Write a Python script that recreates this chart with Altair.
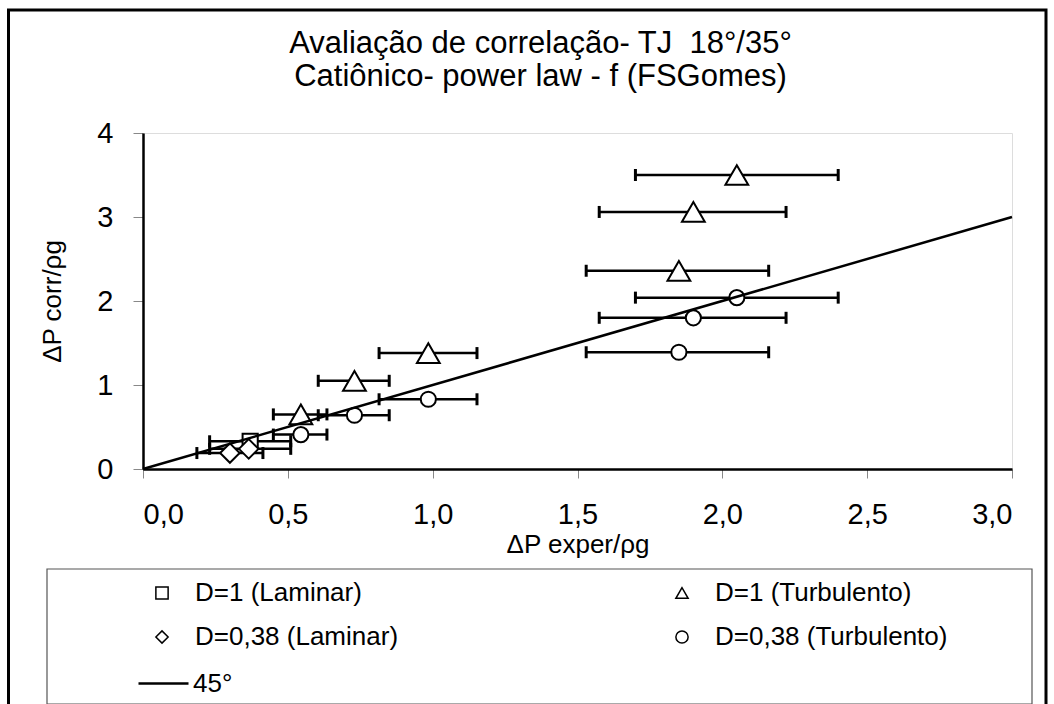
import altair as alt
import pandas as pd

FONT = "Liberation Sans"

# ---- data ----
series_names = ["D=1 (Laminar)", "D=1 (Turbulento)", "D=0,38 (Laminar)", "D=0,38 (Turbulento)"]
series_shapes = ["square", "triangle-up", "diamond", "circle"]
series_sizes = [230, 520, 380, 230]
line_name = "45°"

lam1_x = [0.37]
lam1_y = [0.33]
lam1_lo = [0.23]
lam1_hi = [0.51]

turb1_x = [2.05, 1.90, 1.85, 0.985, 0.73, 0.545]
turb1_y = [3.50, 3.06, 2.36, 1.38, 1.05, 0.65]
turb1_lo = [1.70, 1.575, 1.53, 0.815, 0.605, 0.45]
turb1_hi = [2.40, 2.22, 2.16, 1.153, 0.85, 0.635]

lam038_x = [0.30, 0.365]
lam038_y = [0.19, 0.24]
lam038_lo = [0.186, 0.23]
lam038_hi = [0.414, 0.51]

turb038_x = [2.05, 1.90, 1.85, 0.985, 0.73, 0.545]
turb038_y = [2.04, 1.80, 1.39, 0.83, 0.64, 0.41]
turb038_lo = [1.70, 1.575, 1.53, 0.815, 0.605, 0.45]
turb038_hi = [2.40, 2.22, 2.16, 1.153, 0.85, 0.635]

line_x = [0.0, 3.0]
line_y = [0.0, 3.0]

x_ticks = [0, 0.5, 1.0, 1.5, 2.0, 2.5, 3.0]
y_ticks = [0, 1, 2, 3, 4]

rows = []
for name, sz, xs, ys, los, his in [
    (series_names[0], series_sizes[0], lam1_x, lam1_y, lam1_lo, lam1_hi),
    (series_names[1], series_sizes[1], turb1_x, turb1_y, turb1_lo, turb1_hi),
    (series_names[2], series_sizes[2], lam038_x, lam038_y, lam038_lo, lam038_hi),
    (series_names[3], series_sizes[3], turb038_x, turb038_y, turb038_lo, turb038_hi),
]:
    for x, y, lo, hi in zip(xs, ys, los, his):
        rows.append({"series": name, "msize": sz, "x": x, "y": y, "lo": lo, "hi": hi})
pts = pd.DataFrame(rows)
line_df = pd.DataFrame({"x": line_x, "y": line_y, "ref": line_name})

W, H = 869, 336

xscale = alt.Scale(domain=[0, 3], nice=False, zero=False)
yscale = alt.Scale(domain=[0, 4], nice=False, zero=False)

xaxis = alt.Axis(
    title="ΔP exper/ρg", values=x_ticks,
    labelExpr="replace(format(datum.value, '.1f'), '.', ',')",
    labelFontSize=29, labelFont=FONT, labelColor="black", labelPadding=22,
    titleFontSize=26, titleFont=FONT, titleFontWeight="normal", titleColor="black", titlePadding=2,
    tickColor="#888888", tickSize=9, domainColor="black", domainWidth=2.5, grid=False,
)
yaxis = alt.Axis(
    title="ΔP corr/ρg", values=y_ticks, format="d",
    labelFontSize=29, labelFont=FONT, labelColor="black", labelPadding=20,
    titleFontSize=26, titleFont=FONT, titleFontWeight="normal", titleColor="black", titlePadding=31,
    tickColor="#888888", tickSize=10, domainColor="black", domainWidth=2.5, grid=False,
)

# decorative outer frame and legend box
frame = alt.Chart(pd.DataFrame({"a": [0]})).mark_rect(
    fillOpacity=0, stroke="black", strokeWidth=3
).encode(
    x=alt.value(-134.5), x2=alt.value(903), y=alt.value(-123), y2=alt.value(600)
)
legend_box = alt.Chart(pd.DataFrame({"a": [0]})).mark_rect(
    fill="white", stroke="#555555", strokeWidth=1.2
).encode(
    x=alt.value(-96), x2=alt.value(889), y=alt.value(436), y2=alt.value(571)
)

bars = alt.Chart(pts).mark_rule(color="black", strokeWidth=2.5).encode(
    x=alt.X("lo:Q", scale=xscale, axis=xaxis),
    x2="hi:Q",
    y=alt.Y("y:Q", scale=yscale, axis=yaxis),
)
cap_lo = alt.Chart(pts).mark_tick(orient="vertical", color="black", thickness=3, size=12, opacity=1).encode(
    x=alt.X("lo:Q", scale=xscale), y=alt.Y("y:Q", scale=yscale)
)
cap_hi = alt.Chart(pts).mark_tick(orient="vertical", color="black", thickness=3, size=12, opacity=1).encode(
    x=alt.X("hi:Q", scale=xscale), y=alt.Y("y:Q", scale=yscale)
)

shape_legend = alt.Legend(
    title=None, orient="none", legendX=6, legendY=447, columns=2, direction="horizontal",
    labelFont=FONT, labelFontSize=26, labelColor="black", labelLimit=500,
    symbolSize=150, symbolStrokeWidth=1.5,
    labelOffset=20, padding=0, rowPadding=18, columnPadding=270,
)

points = alt.Chart(pts).mark_point(
    filled=False, color="black", fill="white", fillOpacity=1, strokeWidth=2, opacity=1
).encode(
    x=alt.X("x:Q", scale=xscale),
    y=alt.Y("y:Q", scale=yscale),
    shape=alt.Shape("series:N", scale=alt.Scale(domain=series_names, range=series_shapes), legend=shape_legend),
    size=alt.Size("msize:Q", scale=None, legend=None),
)

line_legend = alt.Legend(
    title=None, orient="none", legendX=-6, legendY=524,
    labelFont=FONT, labelFontSize=26, labelColor="black",
    symbolType="stroke", symbolSize=2500, symbolStrokeWidth=2.5, labelOffset=3, padding=0,
)

line = alt.Chart(line_df).mark_line(strokeWidth=2.5).encode(
    x=alt.X("x:Q", scale=xscale), y=alt.Y("y:Q", scale=yscale),
    color=alt.Color("ref:N", scale=alt.Scale(domain=[line_name], range=["black"]), legend=line_legend),
)

chart = alt.layer(frame, legend_box, bars, cap_lo, cap_hi, points, line).properties(
    width=W, height=H,
    padding={"left": 143, "top": 133, "right": 42, "bottom": 235},
    autosize="none",
    title=alt.Title(
        ["Avaliação de correlação- TJ \u00a018°/35°", "Catiônico- power law - f (FSGomes)"],
        font=FONT, fontSize=31, fontWeight="normal", color="black", lineHeight=33,
        offset=-84, dx=-37, anchor="middle",
    ),
).configure_view(stroke="black", strokeWidth=2.5).configure(background="white")

chart.save("out.html", embed_options={"renderer": "svg", "actions": False})
